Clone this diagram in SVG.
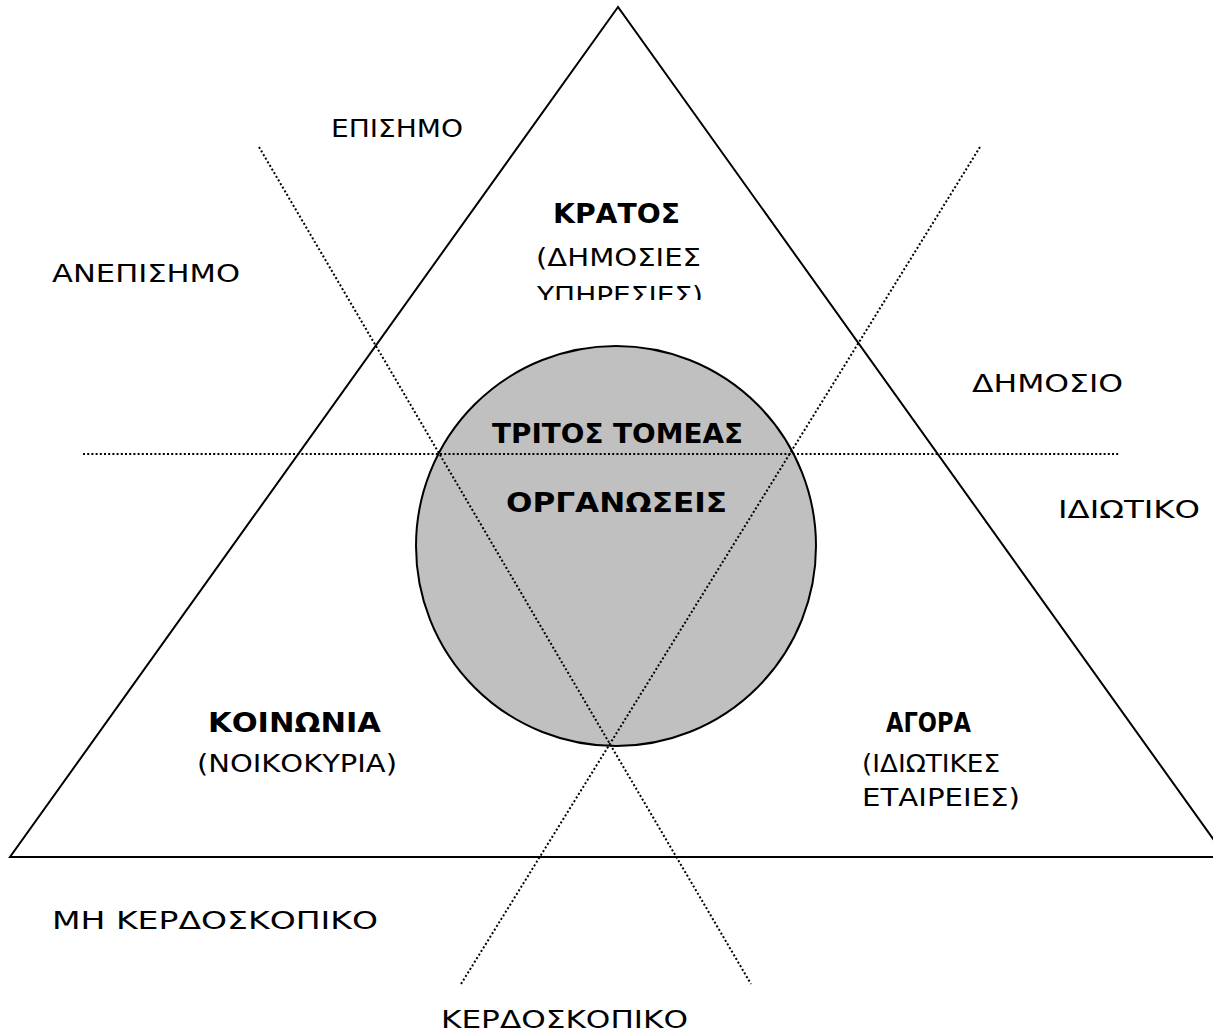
<svg xmlns="http://www.w3.org/2000/svg" width="1213" height="1035" viewBox="0 0 1213 1035">
<style>
.t{font-family:"DejaVu Sans","Liberation Sans",sans-serif;font-size:25px;fill:#000}
.b{font-weight:bold;font-size:26px}
.dot{stroke:#000;stroke-width:2;stroke-dasharray:2 2.2;fill:none}
</style>
<defs>
<clipPath id="clipKratos"><rect x="0" y="0" width="1213" height="300"/></clipPath>
</defs>
<rect width="1213" height="1035" fill="#fff"/>
<g id="triangle">
<polygon points="618,7 10,857 1226,857" fill="none" stroke="#000" stroke-width="2"/>
</g>
<g id="circle">
<circle cx="616" cy="546" r="200" fill="#c0c0c0" stroke="#000" stroke-width="2"/>
</g>
<g id="connectors">
<line class="dot" x1="259" y1="147" x2="751" y2="984"/>
<line class="dot" x1="980" y1="147" x2="461" y2="984"/>
<line class="dot" x1="83" y1="454" x2="1120" y2="454"/>
</g>
<g id="label-episimo"><text class="t" x="331" y="137" textLength="132" lengthAdjust="spacingAndGlyphs">ΕΠΙΣΗΜΟ</text></g>
<g id="label-anepisimo"><text class="t" x="52" y="282" textLength="188" lengthAdjust="spacingAndGlyphs">ΑΝΕΠΙΣΗΜΟ</text></g>
<g id="node-kratos">
<text class="t b" x="553" y="223" textLength="127" lengthAdjust="spacingAndGlyphs">ΚΡΑΤΟΣ</text>
<text class="t" x="536" y="266" textLength="165" lengthAdjust="spacingAndGlyphs">(ΔΗΜΟΣΙΕΣ</text>
<text class="t" x="537" y="304" textLength="166" lengthAdjust="spacingAndGlyphs" clip-path="url(#clipKratos)">ΥΠΗΡΕΣΙΕΣ)</text>
</g>
<g id="label-dimosio"><text class="t" x="972" y="392" textLength="151" lengthAdjust="spacingAndGlyphs">ΔΗΜΟΣΙΟ</text></g>
<g id="node-tritos">
<text class="t b" x="492" y="443" textLength="251" lengthAdjust="spacingAndGlyphs">ΤΡΙΤΟΣ ΤΟΜΕΑΣ</text>
<text class="t b" x="506" y="512" textLength="221" lengthAdjust="spacingAndGlyphs">ΟΡΓΑΝΩΣΕΙΣ</text>
</g>
<g id="label-idiotiko"><text class="t" x="1058" y="518" textLength="142" lengthAdjust="spacingAndGlyphs">ΙΔΙΩΤΙΚΟ</text></g>
<g id="node-koinonia">
<text class="t b" x="208" y="732" textLength="173" lengthAdjust="spacingAndGlyphs">ΚΟΙΝΩΝΙΑ</text>
<text class="t" x="197" y="772" textLength="200" lengthAdjust="spacingAndGlyphs">(ΝΟΙΚΟΚΥΡΙΑ)</text>
</g>
<g id="node-agora">
<text class="t b" x="886" y="732" textLength="85" lengthAdjust="spacingAndGlyphs">ΑΓΟΡΑ</text>
<text class="t" x="862" y="772" textLength="138" lengthAdjust="spacingAndGlyphs">(ΙΔΙΩΤΙΚΕΣ</text>
<text class="t" x="862" y="806" textLength="158" lengthAdjust="spacingAndGlyphs">ΕΤΑΙΡΕΙΕΣ)</text>
</g>
<g id="label-mi-kerdoskopiko"><text class="t" x="52" y="929" textLength="326" lengthAdjust="spacingAndGlyphs">ΜΗ ΚΕΡΔΟΣΚΟΠΙΚΟ</text></g>
<g id="label-kerdoskopiko"><text class="t" x="441" y="1028" textLength="247" lengthAdjust="spacingAndGlyphs">ΚΕΡΔΟΣΚΟΠΙΚΟ</text></g>
</svg>
